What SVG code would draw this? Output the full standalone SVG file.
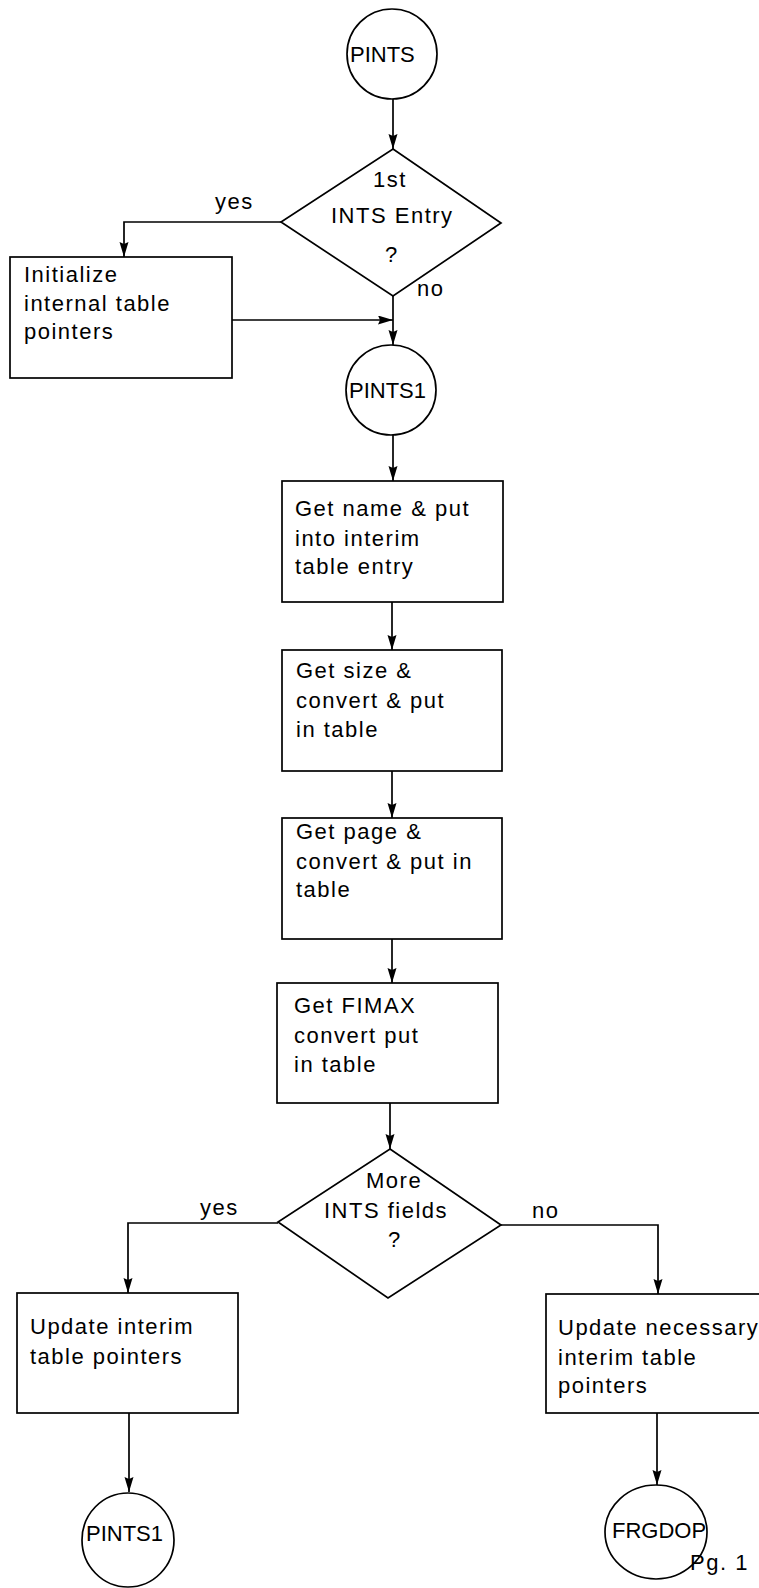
<svg xmlns="http://www.w3.org/2000/svg" width="759" height="1588" viewBox="0 0 759 1588">
<style>
.s{fill:none;stroke:#000;stroke-width:1.7}
.t{font-family:"Liberation Sans",Arial,sans-serif;font-size:22px;fill:#000;letter-spacing:1.5px}
.c{font-family:"Liberation Sans",Arial,sans-serif;font-size:22px;fill:#000}
</style>
<defs>
<marker id="ah" markerUnits="userSpaceOnUse" markerWidth="17" markerHeight="10" refX="15" refY="4.5" orient="auto">
<path d="M0,0 L15,4.5 L0,9 L2,4.5 z" fill="#000"/>
</marker>
</defs>
<rect width="759" height="1588" fill="#fff"/>
<g id="connectors" class="s">
<line x1="393" y1="99" x2="393" y2="149" marker-end="url(#ah)"/>
<polyline points="281,222 124,222 124,257" marker-end="url(#ah)"/>
<line x1="393" y1="296" x2="393" y2="345" marker-end="url(#ah)"/>
<line x1="232" y1="320" x2="393" y2="320" marker-end="url(#ah)"/>
<line x1="393" y1="435" x2="393" y2="481" marker-end="url(#ah)"/>
<line x1="392" y1="602" x2="392" y2="650" marker-end="url(#ah)"/>
<line x1="392" y1="771" x2="392" y2="818" marker-end="url(#ah)"/>
<line x1="392" y1="939" x2="392" y2="983" marker-end="url(#ah)"/>
<line x1="390" y1="1103" x2="390" y2="1149" marker-end="url(#ah)"/>
<polyline points="278,1223 128,1223 128,1293" marker-end="url(#ah)"/>
<polyline points="501,1225 658,1225 658,1294" marker-end="url(#ah)"/>
<line x1="129" y1="1413" x2="129" y2="1492" marker-end="url(#ah)"/>
<line x1="657" y1="1413" x2="657" y2="1485" marker-end="url(#ah)"/>
</g>
<g id="labels">
<text class="t" x="215" y="209">yes</text>
<text class="t" x="417" y="296">no</text>
<text class="t" x="200" y="1215">yes</text>
<text class="t" x="532" y="1218">no</text>
</g>
<g id="pints">
<ellipse class="s" cx="392" cy="54" rx="45" ry="45"/>
<text class="c" x="350" y="62">PINTS</text>
</g>
<g id="first-entry">
<polygon class="s" points="393,149 501,223 393,296 281,222"/>
<text class="t" x="373" y="187">1st</text>
<text class="t" x="331" y="223">INTS Entry</text>
<text class="t" x="385" y="262">?</text>
</g>
<g id="initialize">
<rect class="s" x="10" y="257" width="222" height="121"/>
<text class="t" x="24" y="282">Initialize</text>
<text class="t" x="24" y="311">internal table</text>
<text class="t" x="24" y="339">pointers</text>
</g>
<g id="pints1">
<ellipse class="s" cx="391" cy="390" rx="45" ry="45"/>
<text class="c" x="349" y="398">PINTS1</text>
</g>
<g id="get-name">
<rect class="s" x="282" y="481" width="221" height="121"/>
<text class="t" x="295" y="516">Get name &amp; put</text>
<text class="t" x="295" y="546">into interim</text>
<text class="t" x="295" y="574">table entry</text>
</g>
<g id="get-size">
<rect class="s" x="282" y="650" width="220" height="121"/>
<text class="t" x="296" y="678">Get size &amp;</text>
<text class="t" x="296" y="708">convert &amp; put</text>
<text class="t" x="296" y="737">in table</text>
</g>
<g id="get-page">
<rect class="s" x="282" y="818" width="220" height="121"/>
<text class="t" x="296" y="839">Get page &amp;</text>
<text class="t" x="296" y="869">convert &amp; put in</text>
<text class="t" x="296" y="897">table</text>
</g>
<g id="get-fimax">
<rect class="s" x="277" y="983" width="221" height="120"/>
<text class="t" x="294" y="1013">Get FIMAX</text>
<text class="t" x="294" y="1043">convert put</text>
<text class="t" x="294" y="1072">in table</text>
</g>
<g id="more-fields">
<polygon class="s" points="390,1149 501,1225 388,1298 278,1222"/>
<text class="t" x="366" y="1188">More</text>
<text class="t" x="324" y="1218">INTS fields</text>
<text class="t" x="388" y="1247">?</text>
</g>
<g id="update-interim">
<rect class="s" x="17" y="1293" width="221" height="120"/>
<text class="t" x="30" y="1334">Update interim</text>
<text class="t" x="30" y="1364">table pointers</text>
</g>
<g id="update-necessary">
<rect class="s" x="546" y="1294" width="220" height="119"/>
<text class="t" x="558" y="1335">Update necessary</text>
<text class="t" x="558" y="1365">interim table</text>
<text class="t" x="558" y="1393">pointers</text>
</g>
<g id="pints1-bottom">
<ellipse class="s" cx="128" cy="1540" rx="46" ry="47"/>
<text class="c" x="86" y="1541">PINTS1</text>
</g>
<g id="frgdop">
<ellipse class="s" cx="656" cy="1532" rx="51" ry="47"/>
<text class="c" x="612" y="1538">FRGDOP</text>
</g>
<text class="t" x="690" y="1570">Pg. 1</text>
</svg>
